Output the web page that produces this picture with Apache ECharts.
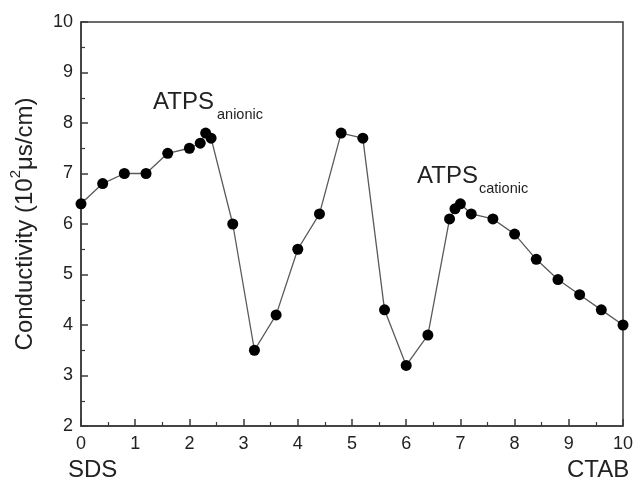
<!DOCTYPE html>
<html>
<head>
<meta charset="utf-8">
<script src="https://cdn.jsdelivr.net/npm/echarts@6/dist/echarts.min.js"></script>
<style>
html,body{margin:0;padding:0;background:#fff;}
#c{width:636px;height:488px;}
</style>
</head>
<body>
<div id="c"></div>
<script>
var xValues = [0, 0.4, 0.8, 1.2, 1.6, 2.0, 2.2, 2.3, 2.4, 2.8, 3.2, 3.6, 4.0, 4.4, 4.8, 5.2, 5.6, 6.0, 6.4, 6.8, 6.9, 7.0, 7.2, 7.6, 8.0, 8.4, 8.8, 9.2, 9.6, 10.0];
var conductivity = [6.4, 6.8, 7.0, 7.0, 7.4, 7.5, 7.6, 7.8, 7.7, 6.0, 3.5, 4.2, 5.5, 6.2, 7.8, 7.7, 4.3, 3.2, 3.8, 6.1, 6.3, 6.4, 6.2, 6.1, 5.8, 5.3, 4.9, 4.6, 4.3, 4.0];
var xTickLabels = ['0','1','2','3','4','5','6','7','8','9','10'];
var yTickLabels = ['2','3','4','5','6','7','8','9','10'];
var endLabels = ['SDS', 'CTAB'];
var phaseLabels = [['ATPS', 'anionic'], ['ATPS', 'cationic']];

var FONT = '"Liberation Sans", Arial, sans-serif';
var AXC = '#3a3a3a';
var chart = echarts.init(document.getElementById('c'));
var pts = xValues.map(function (x, i) { return [x, conductivity[i]]; });

chart.setOption({
  animation: false,
  backgroundColor: '#ffffff',
  grid: { left: 81, right: 13, top: 22, bottom: 62, show: true, borderColor: AXC, borderWidth: 1.5 },
  xAxis: {
    type: 'value', min: 0, max: 10, interval: 1,
    axisLine: { show: true, lineStyle: { color: AXC, width: 1.5 } },
    axisTick: { show: true, inside: true, length: 7, lineStyle: { color: AXC, width: 1.5 } },
    minorTick: { show: true, splitNumber: 2, length: 4, lineStyle: { color: AXC, width: 1.2 } },
    splitLine: { show: false },
    axisLabel: { color: '#222', fontFamily: FONT, fontSize: 18, margin: 9,
      formatter: function (v) { return xTickLabels[Math.round(v)]; } }
  },
  yAxis: {
    type: 'value', min: 2, max: 10, interval: 1,
    name: '{a|Conductivity (10}{s|2}{a|μs/cm)}',
    nameLocation: 'middle', nameGap: 44, nameRotate: 90,
    nameTextStyle: {
      fontFamily: FONT, color: '#222',
      rich: {
        a: { fontFamily: FONT, fontSize: 24, color: '#222', lineHeight: 29, verticalAlign: 'bottom' },
        s: { fontFamily: FONT, fontSize: 15, color: '#222', lineHeight: 29, verticalAlign: 'top' }
      }
    },
    axisLine: { show: true, lineStyle: { color: AXC, width: 1.5 } },
    axisTick: { show: true, inside: true, length: 7, lineStyle: { color: AXC, width: 1.5 } },
    minorTick: { show: true, splitNumber: 2, length: 4, lineStyle: { color: AXC, width: 1.2 } },
    splitLine: { show: false },
    axisLabel: { color: '#222', fontFamily: FONT, fontSize: 18, margin: 8,
      formatter: function (v) { return yTickLabels[Math.round(v) - 2]; } }
  },
  series: [{
    type: 'line',
    data: pts,
    symbol: 'circle',
    symbolSize: 11,
    showAllSymbol: true,
    lineStyle: { color: '#5a5a5a', width: 1.3 },
    itemStyle: { color: '#000' },
    z: 3
  }],
  graphic: [
    { type: 'text', left: 68, top: 458, style: { text: endLabels[0], font: '24px ' + FONT, fill: '#222' } },
    { type: 'text', left: 567, top: 458, style: { text: endLabels[1], font: '24px ' + FONT, fill: '#222' } },
    { type: 'text', left: 153, top: 90, style: { text: phaseLabels[0][0], font: '24px ' + FONT, fill: '#222' } },
    { type: 'text', left: 217, top: 107, style: { text: phaseLabels[0][1], font: '14.5px ' + FONT, fill: '#222' } },
    { type: 'text', left: 417, top: 164, style: { text: phaseLabels[1][0], font: '24px ' + FONT, fill: '#222' } },
    { type: 'text', left: 479, top: 181, style: { text: phaseLabels[1][1], font: '14.5px ' + FONT, fill: '#222' } }
  ]
});
</script>
</body>
</html>
